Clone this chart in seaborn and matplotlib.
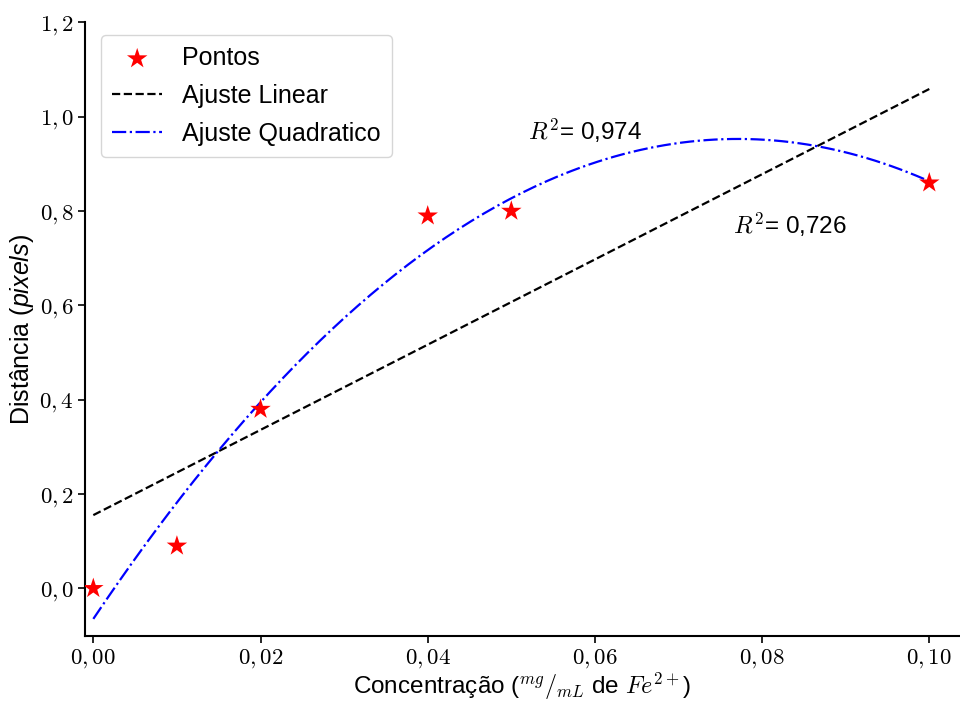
import numpy as np
import pandas as pd
import matplotlib
matplotlib.use("Agg")
import matplotlib.pyplot as plt
import seaborn as sns
from matplotlib.ticker import FuncFormatter, MultipleLocator

# pontos medidos
concentracao = [0.00, 0.01, 0.02, 0.04, 0.05, 0.10]
distancia = [0.00, 0.09, 0.38, 0.79, 0.80, 0.86]
r2_labels = ["0,974", "0,726"]

sns.set_style("ticks")
plt.rcParams['font.family'] = ['Liberation Sans', 'DejaVu Sans']
plt.rcParams['mathtext.fontset'] = 'cm'
plt.rcParams['mathtext.rm'] = 'Liberation Sans'
plt.rcParams['mathtext.it'] = 'Liberation Sans:italic'
plt.rcParams['text.color'] = 'black'
plt.rcParams['axes.labelcolor'] = 'black'

# ajustes (polyfit sobre os pontos)
c_lin = np.polyfit(concentracao, distancia, 1)
c_quad = np.polyfit(concentracao, distancia, 2)
x_fit = np.linspace(0, 0.10, 200)
df_fit = pd.DataFrame({
    "x": x_fit,
    "lin": np.polyval(c_lin, x_fit),
    "quad": np.polyval(c_quad, x_fit),
})
df_pts = pd.DataFrame({"x": concentracao, "y": distancia})

fig = plt.figure(figsize=(9.6, 7.02), dpi=100)
ax = fig.add_axes([0.0885, 0.094, 0.91, 0.874])

sns.scatterplot(data=df_pts, x="x", y="y", marker="*", s=240, color="red",
                edgecolor="none", label="Pontos", ax=ax, zorder=3)
sns.lineplot(data=df_fit, x="x", y="lin", color="black", linestyle="--",
             linewidth=1.6, label="Ajuste Linear", ax=ax)
sns.lineplot(data=df_fit, x="x", y="quad", color="blue", linestyle="-.",
             linewidth=1.6, label="Ajuste Quadratico", ax=ax)

ax.text(0.052, 0.97, "$R^2$= " + r2_labels[0], fontsize=17.5, va="center",
        math_fontfamily="cm")
ax.text(0.0765, 0.77, "$R^2$= " + r2_labels[1], fontsize=17.5, va="center",
        math_fontfamily="cm")

ax.set_xlim(-0.001, 0.1035)
ax.set_ylim(-0.101, 1.2)
ax.xaxis.set_major_locator(MultipleLocator(0.02))
ax.yaxis.set_major_locator(MultipleLocator(0.2))
ax.xaxis.set_major_formatter(FuncFormatter(lambda v, p: "$" + f"{v:.2f}".replace(".", ",") + "$"))
ax.yaxis.set_major_formatter(FuncFormatter(lambda v, p: "$" + f"{v:.1f}".replace(".", ",") + "$"))
ax.tick_params(labelsize=16.5, length=5, width=1.2, colors="black", pad=3)

ax.set_xlabel(r"Concentração ($^{mg}/_{mL}$ de $Fe^{2+}$)", fontsize=17.5,
              math_fontfamily="cm", labelpad=0)
ax.set_ylabel(r"Distância ($\mathit{pixels}$)", fontsize=18,
              math_fontfamily="custom", labelpad=2)

sns.despine(ax=ax)
for s in ["left", "bottom"]:
    ax.spines[s].set_color("black")
    ax.spines[s].set_linewidth(1.5)

leg = ax.legend(loc="upper left", fontsize=18, frameon=True, fancybox=True,
                borderpad=0.45, handlelength=2.0, labelspacing=0.55,
                bbox_to_anchor=(0.004, 1.0))
leg.get_frame().set_edgecolor("#cccccc")

fig.savefig("out.png", dpi=100)
